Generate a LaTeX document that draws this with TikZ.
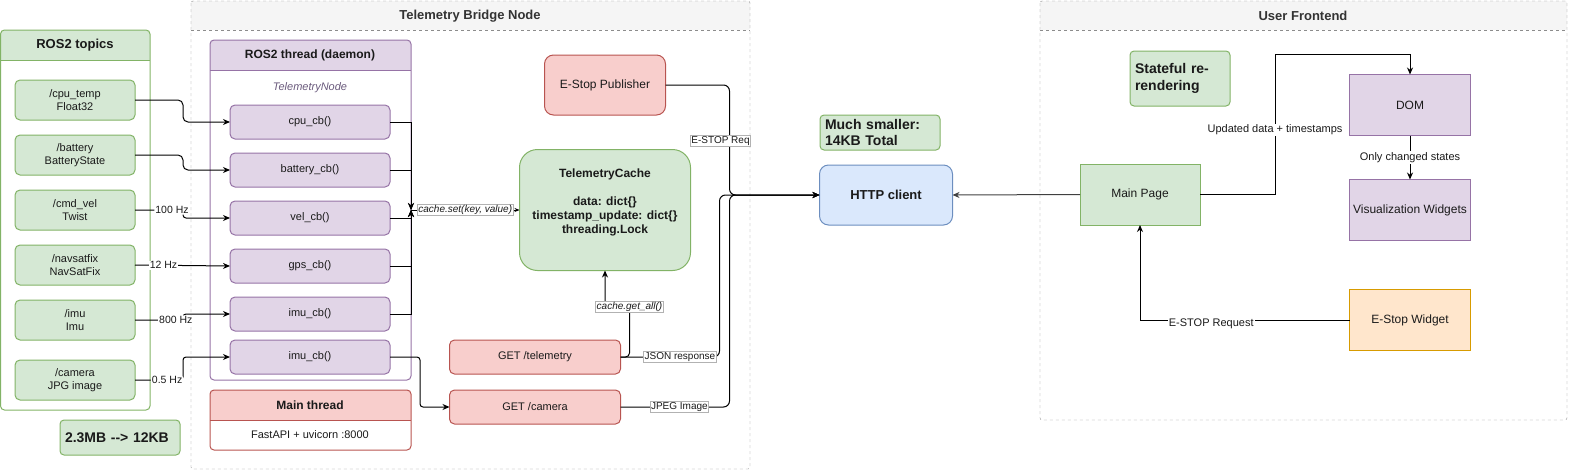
\documentclass[tikz,border=0pt]{standalone}
\usepackage{fontspec}
\setmainfont{Liberation Sans}
\usetikzlibrary{positioning, calc, arrows.meta}

\definecolor{grnFill}{HTML}{D5E8D4}
\definecolor{grnLine}{HTML}{82B366}
\definecolor{purFill}{HTML}{E1D5E7}
\definecolor{purLine}{HTML}{9673A6}
\definecolor{redFill}{HTML}{F8CECC}
\definecolor{redLine}{HTML}{B85450}
\definecolor{bluFill}{HTML}{DAE8FC}
\definecolor{bluLine}{HTML}{6C8EBF}
\definecolor{orgFill}{HTML}{FFE6CC}
\definecolor{orgLine}{HTML}{D79B00}
\definecolor{laneFill}{HTML}{F5F5F5}
\definecolor{laneLine}{HTML}{8C8C8C}
\definecolor{txtColor}{HTML}{1A1A1A}
\definecolor{titleColor}{HTML}{333333}
\definecolor{noteColor}{HTML}{6A5A7C}

\tikzset{
    box/.style={
        line width=1pt,
        outer sep=0pt,
        align=center,
        text=txtColor,
        font=\fontsize{11}{13}\selectfont
    },
    topicnode/.style={box, draw=grnLine, fill=grnFill, rounded corners=5pt,
        minimum width=120, minimum height=40},
    cbnode/.style={box, draw=purLine, fill=purFill, rounded corners=5pt,
        minimum width=160, minimum height=34},
    reqnode/.style={box, draw=redLine, fill=redFill, rounded corners=5pt,
        minimum width=171, minimum height=34},
    fenode/.style={box, minimum width=121, minimum height=61,
        font=\fontsize{12}{14}\selectfont},
    notenode/.style={box, draw=grnLine, fill=grnFill, rounded corners=4pt,
        align=left, inner xsep=5pt, font=\bfseries\fontsize{14}{16.5}\selectfont},
    lanetitle/.style={text=titleColor, font=\bfseries\fontsize{12}{14}\selectfont},
    ptr/.style={
        ->,
        >={Stealth[length=7pt, width=6pt]},
        line width=1pt
    },
    hzlbl/.style={fill=white, inner sep=1pt, text=txtColor,
        font=\fontsize{10.5}{12}\selectfont},
    boxlbl/.style={fill=white, draw=black!30, line width=0.6pt, inner sep=1pt,
        sharp corners, text=txtColor, font=\fontsize{10}{12}\selectfont},
    felbl/.style={fill=white, inner sep=1pt, text=txtColor,
        font=\fontsize{11}{13}\selectfont}
}

\begin{document}
\begin{tikzpicture}[x=1pt, y=-1pt]
    \useasboundingbox (0,0) rectangle (1571,471);

    % lanes
    \fill[laneFill, rounded corners=2pt] (191,1) rectangle (750,30);
    \draw[laneLine, dashed, rounded corners=2pt] (191,1) rectangle (750,469);
    \draw[laneLine, dashed] (191,30) -- (750,30);
    \node[lanetitle, font=\bfseries\fontsize{13}{15}\selectfont] (bridgetitle) at (470,16) {Telemetry Bridge Node};

    \fill[laneFill, rounded corners=2pt] (1040,1) rectangle (1567,30);
    \draw[laneLine, dashed, rounded corners=2pt] (1040,1) rectangle (1567,420);
    \draw[laneLine, dashed] (1040,30) -- (1567,30);
    \node[lanetitle, font=\bfseries\fontsize{13}{15}\selectfont] (fronttitle) at (1303,16) {User Frontend};

    % ROS2 topics
    \begin{scope}
        \clip[rounded corners=4pt] (0.5,30) rectangle (150,410);
        \fill[grnFill] (0,30) rectangle (150,60);
    \end{scope}
    \draw[grnLine, line width=1pt, rounded corners=4pt] (0.5,30) rectangle (150,410);
    \draw[grnLine, line width=1pt] (0.5,60) -- (150,60);
    \node[lanetitle, text=txtColor, font=\bfseries\fontsize{13}{15}\selectfont] (topicstitle) at (75,45) {ROS2 topics};

    % ROS2 thread
    \begin{scope}
        \clip[rounded corners=4pt] (210,40) rectangle (411,380);
        \fill[purFill] (210,40) rectangle (411,70);
    \end{scope}
    \draw[purLine, line width=1pt, rounded corners=4pt] (210,40) rectangle (411,380);
    \draw[purLine, line width=1pt] (210,70) -- (411,70);
    \node[lanetitle, text=txtColor] (threadtitle) at (310,55) {ROS2 thread (daemon)};
    \node[text=noteColor, font=\itshape\fontsize{11}{13}\selectfont] (nodename) at (310,88) {TelemetryNode};

    % Main thread
    \begin{scope}
        \clip[rounded corners=4pt] (210,390) rectangle (411,450);
        \fill[redFill] (210,390) rectangle (411,420);
    \end{scope}
    \draw[redLine, line width=1pt, rounded corners=4pt] (210,390) rectangle (411,450);
    \draw[redLine, line width=1pt] (210,420) -- (411,420);
    \node[lanetitle, text=txtColor] (maintitle) at (310,405) {Main thread};
    \node[text=txtColor, font=\fontsize{11}{13}\selectfont] (fastapi) at (310,435) {FastAPI + uvicorn :8000};

    % topics
    \node[topicnode] (cputemp) at (75,100) {/cpu\_temp\\Float32};
    \node[topicnode, below=15pt of cputemp] (battery) {/battery\\BatteryState};
    \node[topicnode, below=15pt of battery] (cmdvel) {/cmd\_vel\\Twist};
    \node[topicnode, below=15pt of cmdvel] (navsat) {/navsatfix\\NavSatFix};
    \node[topicnode, below=15pt of navsat] (imu) {/imu\\Imu};
    \node[topicnode, below=20pt of imu] (camera) {/camera\\JPG image};

    % callbacks
    \node[cbnode] (cpucb) at (310,122) {cpu\_cb()};
    \node[cbnode, below=14pt of cpucb] (batcb) {battery\_cb()};
    \node[cbnode, below=14pt of batcb] (velcb) {vel\_cb()};
    \node[cbnode, below=14pt of velcb] (gpscb) {gps\_cb()};
    \node[cbnode, below=14pt of gpscb] (imucb) {imu\_cb()};
    \node[cbnode, below=9pt of imucb] (camcb) {imu\_cb()};
    \coordinate (join) at (411,210);

    % bridge parts
    \node[box, draw=redLine, fill=redFill, rounded corners=9pt, minimum width=121,
        minimum height=60, font=\fontsize{12}{14}\selectfont] (estop) at (605,85) {E-Stop Publisher};
    \node[box, draw=grnLine, fill=grnFill, rounded corners=18pt, minimum width=171,
        minimum height=121, font=\bfseries\fontsize{12}{14}\selectfont] (cache) at (605,210)
        {TelemetryCache\\[14pt]data: dict\{\}\\timestamp\_update: dict\{\}\\threading.Lock\\[4pt]~};
    \node[reqnode] (gettel) at (535,357) {GET /telemetry};
    \node[reqnode, below=16pt of gettel] (getcam) {GET /camera};

    \node[box, draw=bluLine, fill=bluFill, rounded corners=9pt, minimum width=133,
        minimum height=60, font=\bfseries\fontsize{13}{15}\selectfont] (http) at (886,195) {HTTP client};
    \node[notenode, minimum width=120, minimum height=35, text width=110] (smaller) at (880,132.5) {Much smaller:\\14KB Total};
    \node[notenode, minimum width=120, minimum height=35, text width=110] (shrink) at (120,437.5) {2.3MB -\kern0pt-\kern0pt> 12KB};

    % frontend
    \node[notenode, minimum width=100, minimum height=55, text width=90] (stateful) at (1180,78.5) {Stateful re-\\rendering};
    \node[fenode, draw=purLine, fill=purFill] (dom) at (1410,105) {DOM};
    \node[fenode, draw=purLine, fill=purFill] (viz) at (1410,210) {Visualization Widgets};
    \node[fenode, draw=orgLine, fill=orgFill] (estopw) at (1410,320) {E-Stop Widget};
    \node[fenode, draw=grnLine, fill=grnFill, minimum width=120] (mainpage) at (1140,194.5) {Main Page};

    % topics -> callbacks
    \draw[ptr, rounded corners=5pt] (cputemp.east) -- ++(48,0) |- (cpucb.west);
    \draw[ptr, rounded corners=5pt] (battery.east) -- ++(48,0) |- (batcb.west);
    \draw[ptr, rounded corners=3pt] (cmdvel.east) -- node[hzlbl, pos=0.77] {100 Hz} ++(48,0) |- (velcb.west);
    \draw[ptr] (navsat.east) -- node[hzlbl, pos=0.3] {12 Hz} (gpscb.west);
    \draw[ptr, rounded corners=3pt] (imu.east) -- node[hzlbl, pos=0.85] {800 Hz} ++(48,0) |- (imucb.west);
    \draw[ptr, rounded corners=3pt] (camera.east) -- node[hzlbl, pos=0.67] {0.5 Hz} ++(48,0) |- (camcb.west);

    % callbacks -> cache
    \foreach \cb in {cpucb, batcb, velcb, gpscb, imucb}
        \draw[ptr] (\cb.east) -| (join);
    \draw[ptr, >={Stealth[length=5pt, width=4pt]}] (join) -- node[boxlbl, font=\itshape\fontsize{10}{12}\selectfont] {cache.set(key, value)} (cache.west);
    \draw[ptr, rounded corners=3pt] (camcb.east) -- ++(30,0) |- (getcam.west);

    % requests
    \draw[ptr, rounded corners=4pt] (gettel.east) -| ++(9,-50) node[boxlbl, font=\itshape\fontsize{10}{12}\selectfont] {cache.get\_all()} -| (cache.south);
    \draw[ptr, rounded corners=6pt] (gettel.east) -- node[boxlbl, pos=0.6] {JSON response} ++(99,0) |- (http.west);
    \draw[ptr, rounded corners=6pt] (getcam.east) -- node[boxlbl, pos=0.54] {JPEG Image} ++(109,0) |- (http.west);
    \draw[ptr, rounded corners=6pt] (estop.east) -- ++(64,0) |- node[boxlbl, pos=0.255, xshift=-9pt] {E-STOP Req} (http.west);

    % frontend links
    \draw[ptr, black!75] (mainpage.west) -- (http.east);
    \draw[ptr] (mainpage.east) -- ++(75,0) -- node[felbl, pos=0.46] {Updated data + timestamps} ++(0,-140) -| (dom.north);
    \draw[ptr] (dom) -- node[felbl] {Only changed states} (viz);
    \draw[ptr] (estopw.west) -| node[felbl, pos=0.33, yshift=-4pt] {E-STOP Request} (mainpage.south);
\end{tikzpicture}
\end{document}
